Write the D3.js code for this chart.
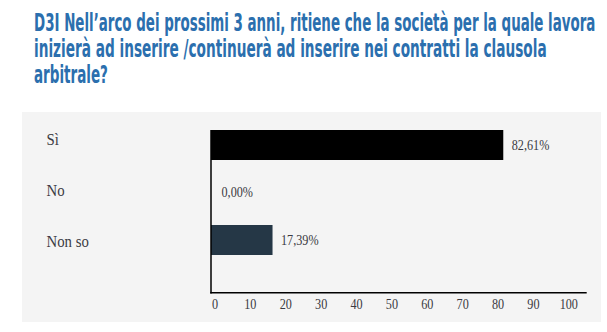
<!DOCTYPE html>
<html>
<head>
<meta charset="utf-8">
<script src="https://cdn.jsdelivr.net/npm/d3@7"></script>
<style>
  html, body { margin: 0; padding: 0; background: #ffffff; }
  svg { display: block; }
</style>
</head>
<body>
<script>
// ---- data ----
const titleLines = [
  "D3I Nell’arco dei prossimi 3 anni, ritiene che la società per la quale lavora",
  "inizierà ad inserire /continuerà ad inserire nei contratti la clausola",
  "arbitrale?"
];
const titleWidths = [562, 513, 74];
const categories = ["Sì", "No", "Non so"];
const values = [82.61, 0.00, 17.39];
const barColors = ["#000000", "#000000", "#253746"];
const tickValues = [0, 10, 20, 30, 40, 50, 60, 70, 80, 90, 100];

// ---- layout ----
const W = 607, H = 332;
const svg = d3.select("body").append("svg").attr("width", W).attr("height", H);

// panel background
svg.append("rect").attr("x", 22).attr("y", 112).attr("width", 579).attr("height", 210)
  .attr("fill", "#f4f4f4");

// title (each line compressed horizontally to the reference width)
const titleG = svg.append("g");
const titleY = d3.scalePoint().domain(d3.range(titleLines.length)).range([31, 83]);
titleG.selectAll("text").data(titleLines).join("text")
  .attr("font-family", "'Liberation Sans Narrow', 'DejaVu Sans Condensed', 'Liberation Sans', sans-serif")
  .attr("font-weight", "bold")
  .attr("font-size", 24.5)
  .attr("fill", "#2b6fae")
  .text(d => d)
  .each(function (d, i) {
    const natural = this.getComputedTextLength();
    const k = titleWidths[i] / natural;
    d3.select(this).attr("transform", `translate(34,${titleY(i)}) scale(${k},1)`);
  });

// scales
const x = d3.scaleLinear().domain([0, 100]).range([211, 564.8]);
const y = d3.scaleBand().domain(categories).range([121.25, 263.75])
  .paddingInner(17.5 / 47.5).paddingOuter(17.5 / 47.5 / 2);
const labelY = d3.scalePoint().domain(categories).range([145, 246.7]);

const serif = "'Liberation Serif', 'DejaVu Serif', serif";
const textColor = "#3a3a42";
const sx = 0.87;

// category labels
svg.append("g").selectAll("text").data(categories).join("text")
  .attr("transform", d => `translate(46.5,${labelY(d)}) scale(${sx},1)`)
  .attr("font-family", serif)
  .attr("font-size", 17)
  .attr("fill", textColor)
  .text(d => d);

// bars
svg.append("g").selectAll("rect").data(categories).join("rect")
  .attr("x", x(0))
  .attr("y", d => y(d))
  .attr("width", (d, i) => x(values[i]) - x(0))
  .attr("height", y.bandwidth())
  .attr("fill", (d, i) => barColors[i]);

// value labels
const fmt = v => v.toFixed(2).replace(".", ",") + "%";
svg.append("g").selectAll("text").data(categories).join("text")
  .attr("transform", (d, i) => `translate(${x(values[i]) + (values[i] === 0 ? 10.5 : 8.5)},${y(d) + y.bandwidth() / 2 + 4.5}) scale(${sx},1)`)
  .attr("font-family", serif)
  .attr("font-size", 14)
  .attr("fill", textColor)
  .text((d, i) => fmt(values[i]));

// axes lines
const axisY = 292.7;
svg.append("line")
  .attr("x1", x(0)).attr("x2", x(0))
  .attr("y1", y(categories[0])).attr("y2", axisY + 0.75)
  .attr("stroke", "#000").attr("stroke-width", 1.5);
svg.append("line")
  .attr("x1", x(0) - 0.75).attr("x2", 586.7)
  .attr("y1", axisY).attr("y2", axisY)
  .attr("stroke", "#000").attr("stroke-width", 1.5);

// x axis tick labels
const xAxis = d3.axisBottom(x).tickValues(tickValues).tickSize(0).tickPadding(0)
  .tickFormat(d3.format("d"));
const gx = svg.append("g").attr("transform", `translate(0,${axisY})`).call(xAxis);
gx.select(".domain").remove();
gx.selectAll(".tick text")
  .attr("y", 16.3)
  .attr("dy", 0)
  .attr("x", 4)
  .attr("transform", `scale(${sx},1)`)
  .attr("font-family", serif)
  .attr("font-size", 14)
  .attr("fill", textColor);
</script>
</body>
</html>
